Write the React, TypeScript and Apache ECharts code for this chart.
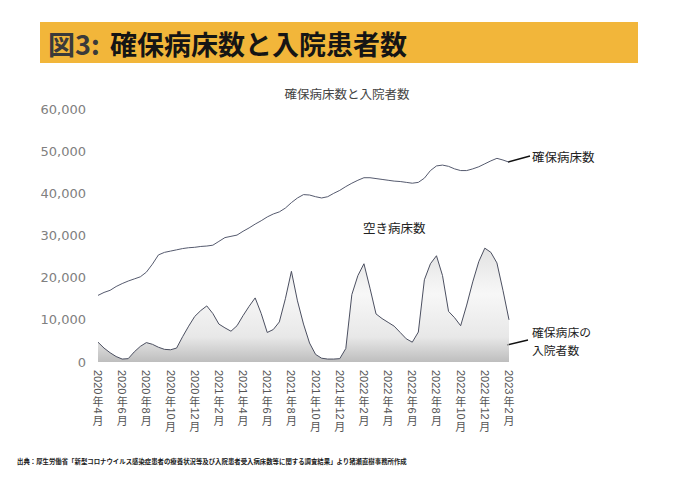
import { useEffect, useRef } from "react";
import * as echarts from "echarts";

// Half-month sample points
const categories = [
  "2020/4/1", "2020/4/16", "2020/5/1", "2020/5/16", "2020/6/1", "2020/6/16", "2020/7/1", "2020/7/16",
  "2020/8/1", "2020/8/16", "2020/9/1", "2020/9/16", "2020/10/1", "2020/10/16", "2020/11/1", "2020/11/16",
  "2020/12/1", "2020/12/16",
  "2021/1/1", "2021/1/16", "2021/2/1", "2021/2/16", "2021/3/1", "2021/3/16", "2021/4/1", "2021/4/16",
  "2021/5/1", "2021/5/16", "2021/6/1", "2021/6/16", "2021/7/1", "2021/7/16", "2021/8/1", "2021/8/16",
  "2021/9/1", "2021/9/16", "2021/10/1", "2021/10/16", "2021/11/1", "2021/11/16", "2021/12/1", "2021/12/16",
  "2022/1/1", "2022/1/16", "2022/2/1", "2022/2/16", "2022/3/1", "2022/3/16", "2022/4/1", "2022/4/16",
  "2022/5/1", "2022/5/16", "2022/6/1", "2022/6/16", "2022/7/1", "2022/7/16", "2022/8/1", "2022/8/16",
  "2022/9/1", "2022/9/16", "2022/10/1", "2022/10/16", "2022/11/1", "2022/11/16", "2022/12/1", "2022/12/16",
  "2023/1/1", "2023/1/16", "2023/2/1",
];

// 確保病床数
const securedBeds = [
  15800, 16500, 17000, 17900, 18600, 19200, 19700, 20200, 21300, 23200,
  25400, 26000, 26300, 26600, 26900, 27100, 27200, 27400, 27500, 27700,
  28600, 29500, 29800, 30100, 31000, 31800, 32700, 33500, 34400, 35100,
  35600, 36500, 37800, 38900, 39700, 39600, 39200, 38900, 39200, 40000,
  40700, 41600, 42400, 43100, 43700, 43700, 43500, 43300, 43100, 42900,
  42800, 42600, 42400, 42600, 43600, 45400, 46500, 46700, 46400, 45800,
  45400, 45400, 45800, 46300, 47000, 47700, 48300, 47900, 47400,
];

// 確保病床の入院者数
const inpatients = [
  4700, 3300, 2200, 1300, 700, 800, 2400, 3700, 4600, 4200,
  3500, 3000, 2900, 3300, 6000, 8500, 10800, 12200, 13300, 11500,
  9000, 8100, 7300, 8600, 11000, 13200, 15200, 11500, 7000, 7700,
  9500, 15000, 21500, 14500, 9000, 4500, 1800, 900, 700, 700,
  800, 3200, 16000, 20500, 23300, 17500, 11400, 10300, 9400, 8500,
  7000, 5500, 4700, 7100, 19500, 23300, 25200, 20500, 12000, 10500,
  8600, 13500, 19000, 23800, 27000, 26000, 23500, 17000, 10000,
];

const tickLabels = [
  "2020年4月", "2020年6月", "2020年8月", "2020年10月", "2020年12月", "2021年2月",
  "2021年4月", "2021年6月", "2021年8月", "2021年10月", "2021年12月", "2022年2月",
  "2022年4月", "2022年6月", "2022年8月", "2022年10月", "2022年12月", "2023年2月",
];
const tickEvery = 4;

const CJK = '"Noto Sans CJK JP", sans-serif';
const LAT = '"Liberation Sans", sans-serif';

function measure(text: string, size: number, family: string) {
  const c = document.createElement("canvas").getContext("2d")!;
  c.font = `${size}px ${family}`;
  return c.measureText(text).width;
}

function buildTickLabels(chart: echarts.ECharts) {
  const fs = 11;
  const out: any[] = [];
  tickLabels.forEach((lab, k) => {
    const cat = categories[k * tickEvery];
    const px = chart.convertToPixel({ xAxisIndex: 0 }, cat) as number;
    const tokens = lab.match(/[0-9]+|[^0-9]/g) || [];
    let y = 370;
    tokens.forEach((tok) => {
      if (/^[0-9]+$/.test(tok)) {
        const w = measure(tok, fs, LAT);
        out.push({
          type: "text",
          x: px,
          y,
          rotation: -Math.PI / 2,
          silent: true,
          style: { text: tok, fill: "#555", fontSize: fs, fontFamily: LAT, align: "left", verticalAlign: "middle" },
        });
        y += w + 1;
      } else {
        out.push({
          type: "text",
          x: px,
          y,
          silent: true,
          style: { text: tok, fill: "#555", fontSize: fs, fontFamily: CJK, align: "center", verticalAlign: "top" },
        });
        y += fs + 1;
      }
    });
  });
  return out;
}

const staticGraphics: any[] = [
  { type: "rect", shape: { x: 40, y: 22, width: 598, height: 41 }, style: { fill: "#F2B63A" }, silent: true },
  {
    type: "text", x: 48, y: 43, silent: true,
    style: { text: "図3:", fill: "#3a3a3a", fontSize: 27, fontWeight: "bold", fontFamily: CJK, align: "left", verticalAlign: "middle" },
  },
  {
    type: "text", x: 110, y: 43, silent: true,
    style: { text: "確保病床数と入院患者数", fill: "#151515", fontSize: 27, fontWeight: "bold", fontFamily: CJK, align: "left", verticalAlign: "middle" },
  },
  {
    type: "text", x: 347, y: 93, silent: true,
    style: { text: "確保病床数と入院者数", fill: "#444", fontSize: 12.5, fontFamily: CJK, align: "center", verticalAlign: "middle" },
  },
  {
    type: "text", x: 532, y: 156, silent: true,
    style: { text: "確保病床数", fill: "#222", fontSize: 12.5, fontFamily: CJK, align: "left", verticalAlign: "middle" },
  },
  { type: "line", shape: { x1: 508, y1: 162, x2: 530, y2: 156 }, style: { stroke: "#111", lineWidth: 1.3 }, silent: true },
  {
    type: "text", x: 363, y: 227, silent: true,
    style: { text: "空き病床数", fill: "#222", fontSize: 12.5, fontFamily: CJK, align: "left", verticalAlign: "middle" },
  },
  {
    type: "text", x: 532, y: 331.5, silent: true,
    style: { text: "確保病床の", fill: "#222", fontSize: 11.8, fontFamily: CJK, align: "left", verticalAlign: "middle" },
  },
  {
    type: "text", x: 532, y: 349, silent: true,
    style: { text: "入院者数", fill: "#222", fontSize: 11.8, fontFamily: CJK, align: "left", verticalAlign: "middle" },
  },
  { type: "line", shape: { x1: 507, y1: 345, x2: 528, y2: 340 }, style: { stroke: "#111", lineWidth: 1.3 }, silent: true },
  {
    type: "text", x: 17, y: 461, silent: true,
    style: {
      text: "出典：厚生労働省「新型コロナウイルス感染症患者の療養状況等及び入院患者受入病床数等に関する調査結果」より猪瀬直樹事務所作成",
      fill: "#1a1a1a", fontSize: 6.4, fontWeight: "bold", fontFamily: CJK, align: "left", verticalAlign: "middle",
    },
  },
];

export default function App() {
  const ref = useRef<HTMLDivElement>(null);
  useEffect(() => {
    const chart = echarts.init(ref.current!, null, { renderer: "svg", width: 680, height: 481 });
    chart.setOption({
      animation: false,
      backgroundColor: "#ffffff",
      grid: { left: 98, right: 171, top: 109, bottom: 119 },
      xAxis: {
        type: "category",
        data: categories,
        boundaryGap: false,
        axisLine: { show: false },
        axisTick: { show: false },
        axisLabel: { show: false },
        splitLine: { show: false },
      },
      yAxis: {
        type: "value",
        min: 0,
        max: 60000,
        interval: 10000,
        splitLine: { show: false },
        axisLine: { show: false },
        axisTick: { show: false },
        axisLabel: {
          margin: 12,
          color: "#808080",
          fontSize: 13,
          fontFamily: '"DejaVu Sans", sans-serif',
          formatter: (v: number) => v.toLocaleString("en-US"),
        },
      },
      series: [
        {
          name: "確保病床の入院者数",
          type: "line",
          data: inpatients,
          symbol: "none",
          lineStyle: { color: "#4b4f60", width: 1 },
          areaStyle: {
            color: new echarts.graphic.LinearGradient(0, 0, 0, 1, [
              { offset: 0, color: "#d6d6d6" },
              { offset: 0.4, color: "#f4f4f4" },
              { offset: 0.78, color: "#dedede" },
              { offset: 1, color: "#a2a2a2" },
            ]),
          },
          z: 2,
        },
        {
          name: "確保病床数",
          type: "line",
          data: securedBeds,
          symbol: "none",
          lineStyle: { color: "#555a6e", width: 1 },
          z: 3,
        },
      ],
    });
    chart.setOption({ graphic: [...staticGraphics, ...buildTickLabels(chart)] });
    return () => chart.dispose();
  }, []);
  return <div ref={ref} style={{ width: 680, height: 481, position: "absolute", left: 0, top: 0 }} />;
}
